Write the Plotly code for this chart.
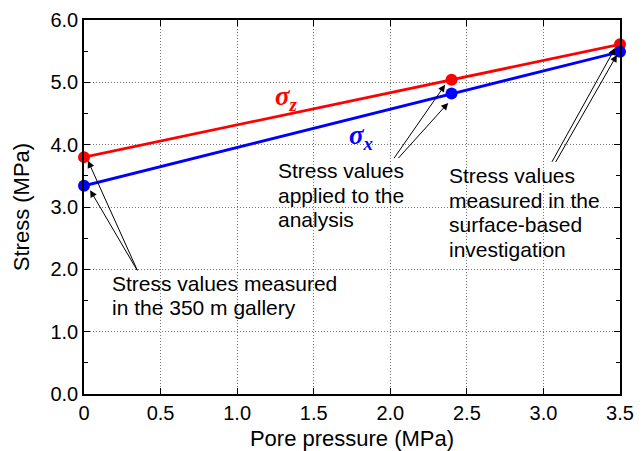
import plotly.graph_objects as go

pore = [0.0, 2.4, 3.5]
sigma_z = [3.80, 5.04, 5.61]
sigma_x = [3.34, 4.82, 5.49]
xticks = [0, 0.5, 1.0, 1.5, 2.0, 2.5, 3.0, 3.5]
xticklabels = ["0", "0.5", "1.0", "1.5", "2.0", "2.5", "3.0", "3.5"]
yticks = [0, 1, 2, 3, 4, 5, 6]
yticklabels = ["0.0", "1.0", "2.0", "3.0", "4.0", "5.0", "6.0"]

# arrow (tail x, tail y, head x, head y) in data units
arrow_tails_x = [0.353, 0.353, 2.018, 2.044, 3.05, 3.075]
arrow_tails_y = [1.96, 1.96, 3.76, 3.76, 3.70, 3.70]
arrow_heads_x = [0.026, 0.04, 2.358, 2.378, 3.468, 3.48]
arrow_heads_y = [3.74, 3.27, 4.96, 4.67, 5.55, 5.44]

note_x = [0.17, 1.254, 2.37]
note_y = [1.78, 3.58, 3.50]
note_lines = [
    ["Stress values measured", "in the 350 m gallery"],
    ["Stress values", "applied to the", "analysis"],
    ["Stress values", "measured in the", "surface-based", "investigation"],
]

FONT = "Liberation Sans, Arial, sans-serif"
SERIF = "Liberation Serif, Times New Roman, serif"

fig = go.Figure()
fig.add_trace(go.Scatter(x=pore, y=sigma_z, mode="lines+markers",
                         line=dict(color="#ff0000", width=2.8),
                         marker=dict(color="#ff0000", size=12), cliponaxis=False))
fig.add_trace(go.Scatter(x=pore, y=sigma_x, mode="lines+markers",
                         line=dict(color="#0000ff", width=2.8),
                         marker=dict(color="#0000ff", size=12), cliponaxis=False))

for tx, ty, hx, hy in zip(arrow_tails_x, arrow_tails_y, arrow_heads_x, arrow_heads_y):
    fig.add_annotation(x=hx, y=hy, ax=tx, ay=ty, xref="x", yref="y", axref="x", ayref="y",
                       text="", showarrow=True, arrowhead=2, arrowsize=1.4, arrowwidth=1,
                       arrowcolor="black", standoff=0)

for x_, y_, lines in zip(note_x, note_y, note_lines):
    for i, t in enumerate(lines):
        fig.add_annotation(x=x_, y=y_, xref="x", yref="y", text=t, showarrow=False,
                           xanchor="left", yanchor="middle", align="left", yshift=-24.5 * i,
                           font=dict(family=FONT, size=21, color="black"))

fig.add_annotation(x=1.32, y=4.75, xref="x", yref="y", showarrow=False,
                   text="<b><i>σ<sub>z</sub></i></b>",
                   font=dict(family=SERIF, size=27, color="#ff0000"))
fig.add_annotation(x=1.81, y=4.12, xref="x", yref="y", showarrow=False,
                   text="<b><i>σ<sub>x</sub></i></b>",
                   font=dict(family=SERIF, size=27, color="#0000ff"))

fig.update_layout(
    width=644, height=451,
    margin=dict(l=84, r=24, t=20, b=57),
    plot_bgcolor="white", paper_bgcolor="white",
    showlegend=False,
    font=dict(family=FONT, size=20, color="black"),
)
fig.update_xaxes(range=[0, 3.5], tickvals=xticks, ticktext=xticklabels,
                 showline=True, linecolor="black", linewidth=1.5, mirror="ticks",
                 ticks="inside", ticklen=6, tickcolor="black",
                 tickfont=dict(size=20), automargin=False,
                 showgrid=True, gridcolor="#777777", griddash="1px,2px", gridwidth=1,
                 zeroline=False,
                 title=dict(text="Pore pressure (MPa)", font=dict(size=22)))
fig.update_yaxes(range=[0, 6], tickvals=yticks, ticktext=yticklabels,
                 showline=True, linecolor="black", linewidth=1.5, mirror="ticks",
                 ticks="inside", ticklen=6, tickcolor="black",
                 tickfont=dict(size=20), automargin=False,
                 minor=dict(dtick=0.5, ticks="inside", ticklen=4, tickcolor="black", showgrid=False),
                 showgrid=True, gridcolor="#777777", griddash="1px,2px", gridwidth=1,
                 zeroline=False,
                 title=dict(text="Stress (MPa)", font=dict(size=22)))

fig.write_html("out.html")
